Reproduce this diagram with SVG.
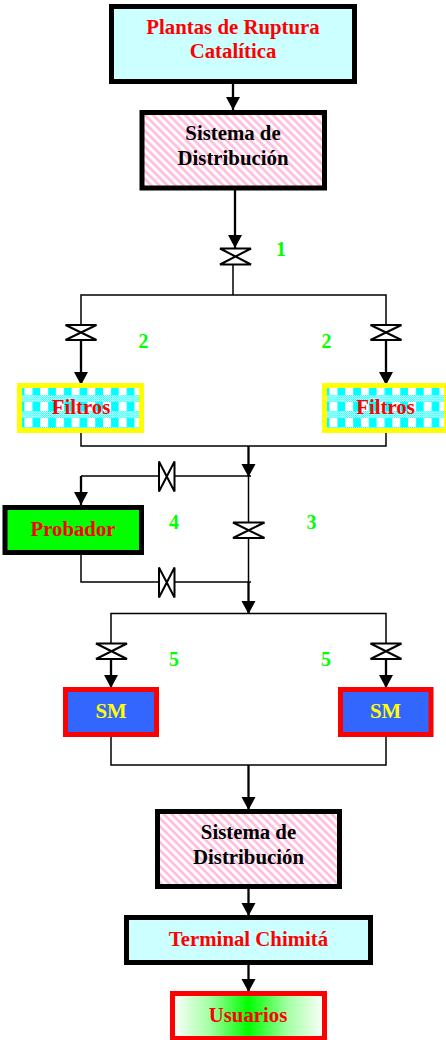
<svg xmlns="http://www.w3.org/2000/svg" width="446" height="1040" viewBox="0 0 446 1040">
<style>
.thin{fill:none;stroke:#000;stroke-width:1.5}
.flow{fill:none;stroke:#000;stroke-width:2.3}
.valve{fill:#fff;stroke:#000;stroke-width:2}
.box{stroke-width:5}
.k{stroke:#000}.r{stroke:#f00}.y{stroke:#ff0}
text{font-family:"Liberation Serif","Times New Roman",serif;font-weight:bold;font-size:20.8px;text-anchor:middle}
.red{fill:#f00}.blk{fill:#000}.yel{fill:#ff0}.num{fill:#0f0;font-size:20px}
</style>
<defs>
<marker id="a" markerUnits="userSpaceOnUse" markerWidth="13" markerHeight="14" refX="13" refY="7" viewBox="0 0 13 14" orient="auto" overflow="visible"><path d="M0 0L13 7L0 14Z" fill="#000"/></marker>
<pattern id="pink" width="5.66" height="5.66" patternUnits="userSpaceOnUse" patternTransform="rotate(45)"><rect width="5.66" height="5.66" fill="#fff"/><rect width="5.66" height="2.83" fill="#ffbfdf"/></pattern>
<pattern id="dots" width="2" height="2" patternUnits="userSpaceOnUse"><rect width="2" height="2" fill="#fff"/><rect width="1" height="1" fill="#0ff"/><rect x="1" y="1" width="1" height="1" fill="#0ff"/></pattern>
<pattern id="plaid" x="24.5" y="395" width="15.7" height="16" patternUnits="userSpaceOnUse"><rect width="15.7" height="16" fill="#fff"/><rect x="8" width="7.7" height="16" fill="#0ff"/><rect width="15.7" height="7" fill="url(#dots)"/></pattern>
<pattern id="plaid2" x="329.5" y="395" width="15.7" height="16" patternUnits="userSpaceOnUse"><rect width="15.7" height="16" fill="#fff"/><rect x="8" width="7.7" height="16" fill="#0ff"/><rect width="15.7" height="7" fill="url(#dots)"/></pattern>
<linearGradient id="grad"><stop offset="0" stop-color="#fff"/><stop offset=".25" stop-color="#a0ffa0"/><stop offset=".5" stop-color="#0f0"/><stop offset=".75" stop-color="#a0ffa0"/><stop offset="1" stop-color="#fff"/></linearGradient>
</defs>
<g id="connectors">
<path class="flow" marker-end="url(#a)" d="M233 84V110"/>
<path class="flow" marker-end="url(#a)" d="M235 190V248"/>
<path class="thin" d="M233 264V295M81 325V295H386V325"/>
<path class="flow" marker-end="url(#a)" d="M81 340V385"/>
<path class="flow" marker-end="url(#a)" d="M386 340V385"/>
<path class="thin" d="M81 431V446H386V431"/>
<path class="flow" marker-end="url(#a)" d="M248.500 446V477"/>
<path class="thin" d="M251 476H81"/>
<path class="flow" marker-end="url(#a)" d="M81 476V505"/>
<path class="thin" d="M248.500 476V582M81 555V582H251"/>
<path class="flow" marker-end="url(#a)" d="M248.500 582V614"/>
<path class="thin" d="M111 643V613.500H386V643"/>
<path class="flow" marker-end="url(#a)" d="M111 659V688"/>
<path class="flow" marker-end="url(#a)" d="M386 659V688"/>
<path class="thin" d="M111 737V765H386V737"/>
<path class="flow" marker-end="url(#a)" d="M248.500 765V810"/>
<path class="flow" marker-end="url(#a)" d="M248.500 889V916"/>
<path class="flow" marker-end="url(#a)" d="M248.500 965V992"/>
</g>
<g id="valves">
<path id="v1" class="valve" d="M220 248.500H251L220 264.500H251Z"/>
<path id="v2a" class="valve" d="M65.500 325H96.500L65.500 340H96.500Z"/>
<path id="v2b" class="valve" d="M370.500 325H401.500L370.500 340H401.500Z"/>
<path id="v4a" class="valve" d="M159 461.500V491.500L174.500 461.500V491.500Z"/>
<path id="v3" class="valve" d="M233 522.500H264.500L233 538H264.500Z"/>
<path id="v4b" class="valve" d="M159 567.500V597.500L174.500 567.500V597.500Z"/>
<path id="v5a" class="valve" d="M96 643.500H127L96 659H127Z"/>
<path id="v5b" class="valve" d="M370.500 643.500H401.500L370.500 659H401.500Z"/>
</g>
<g id="n1"><rect class="box k" x="111.500" y="6.500" width="243" height="75" fill="#cff"/><text class="red" x="233" y="33.500">Plantas de Ruptura</text><text class="red" x="233" y="58">Catalítica</text></g>
<g id="n2"><rect class="box k" x="142" y="112.500" width="182.500" height="75.500" fill="url(#pink)"/><text class="blk" x="233" y="140">Sistema de</text><text class="blk" x="233" y="165">Distribución</text></g>
<g id="n3"><rect class="box y" x="19.500" y="385.500" width="122" height="45" fill="url(#plaid)"/><text class="red" x="81" y="413.500">Filtros</text></g>
<g id="n4"><rect class="box y" x="324.500" y="385.500" width="122" height="45" fill="url(#plaid2)"/><text class="red" x="385.500" y="413.500">Filtros</text></g>
<g id="n5"><rect class="box k" x="5" y="507.500" width="136.500" height="45" fill="#0f0"/><text class="red" x="73" y="536">Probador</text></g>
<g id="n6"><rect class="box r" x="65.500" y="689.500" width="91" height="45" fill="#36f"/><text class="yel" x="111" y="718">SM</text></g>
<g id="n7"><rect class="box r" x="340.500" y="689.500" width="90.500" height="45" fill="#36f"/><text class="yel" x="385.500" y="718">SM</text></g>
<g id="n8"><rect class="box k" x="157.500" y="811.500" width="182" height="75" fill="url(#pink)"/><text class="blk" x="248.500" y="838.500">Sistema de</text><text class="blk" x="248.500" y="864">Distribución</text></g>
<g id="n9"><rect class="box k" x="126.500" y="917.500" width="244" height="45" fill="#cff"/><text class="red" x="248.500" y="946">Terminal Chimitá</text></g>
<g id="n10"><rect class="box r" x="172.500" y="993.500" width="152" height="45" fill="url(#grad)"/><text class="red" x="248" y="1022">Usuarios</text></g>
<g id="labels">
<text class="num" x="281" y="256">1</text>
<text class="num" x="143.500" y="348">2</text>
<text class="num" x="326.500" y="348">2</text>
<text class="num" x="311.500" y="529">3</text>
<text class="num" x="174" y="529">4</text>
<text class="num" x="174" y="666">5</text>
<text class="num" x="326" y="666">5</text>
</g>
</svg>
